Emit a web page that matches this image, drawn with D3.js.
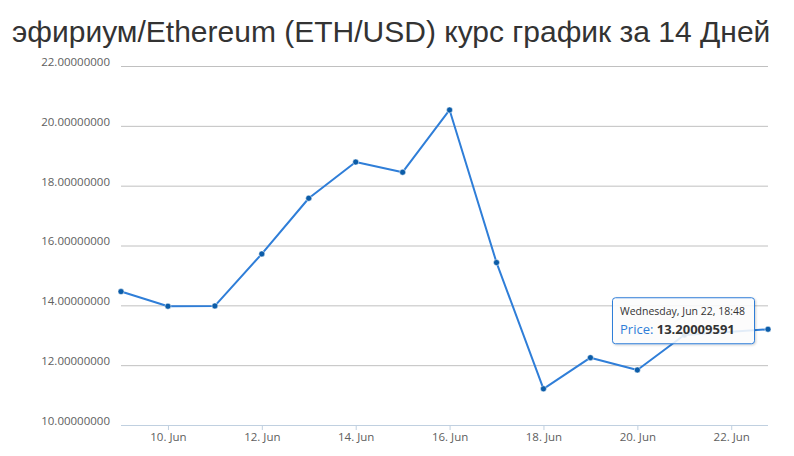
<!DOCTYPE html>
<html>
<head>
<meta charset="utf-8">
<script src="https://cdn.jsdelivr.net/npm/d3@7"></script>
<style>
  body { margin: 0; background: #fff; }
  svg { display: block; }
</style>
</head>
<body>
<div id="chart"></div>
<script>
// data
const titleText = "эфириум/Ethereum (ETH/USD) курс график за 14 Дней";
const dates = ["2016-06-09T00:00", "2016-06-10T00:00", "2016-06-11T00:00", "2016-06-12T00:00",
  "2016-06-13T00:00", "2016-06-14T00:00", "2016-06-15T00:00", "2016-06-16T00:00",
  "2016-06-17T00:00", "2016-06-18T00:00", "2016-06-19T00:00", "2016-06-20T00:00",
  "2016-06-21T00:00", "2016-06-22T18:48"];
const prices = [14.46, 13.97, 13.98, 15.72, 17.58, 18.79, 18.45, 20.53,
  15.43, 11.21, 12.25, 11.84, 13.01, 13.20009591];
const yTicks = [10, 12, 14, 16, 18, 20, 22];
const xTicks = ["2016-06-10", "2016-06-12", "2016-06-14", "2016-06-16",
  "2016-06-18", "2016-06-20", "2016-06-22"];
const tooltipDate = "Wednesday, Jun 22, 18:48";
const tooltipLabel = "Price: ";
const tooltipValue = "13.20009591";

const W = 794, H = 456;
const margin = {top: 66, right: 26, bottom: 31, left: 121};
const width = W - margin.left - margin.right,
      height = H - margin.top - margin.bottom;

const parse = d3.timeParse("%Y-%m-%dT%H:%M");
const parseDay = d3.timeParse("%Y-%m-%d");
const data = dates.map((d, i) => ({date: parse(d), price: prices[i]}));

const svg = d3.select("#chart")
  .append("svg")
  .attr("width", W)
  .attr("height", H);

svg.append("text")
  .attr("x", 12)
  .attr("y", 42)
  .style("font-family", "'Liberation Sans', Arial, sans-serif")
  .style("font-size", "30px")
  .style("fill", "#333")
  .text(titleText);

const g = svg.append("g")
  .attr("transform", `translate(${margin.left}, ${margin.top})`);

const x = d3.scaleTime()
  .domain(d3.extent(data, d => d.date))
  .range([0, width]);

const y = d3.scaleLinear()
  .domain([10, 22])
  .range([height, 0]);

// grid lines + y labels
const yAxis = g.append("g")
  .call(d3.axisLeft(y).tickValues(yTicks).tickSize(-width).tickFormat(d => d.toFixed(8)))
yAxis.select(".domain").remove();
yAxis.selectAll(".tick line").attr("stroke", "#C0C0C0");
yAxis.selectAll(".tick text")
  .attr("x", -11)
  .attr("dy", "-0.05em")
  .style("font-family", "'Open Sans', sans-serif")
  .style("font-size", "11.5px")
  .style("fill", "#606060");
yAxis.selectAll(".tick").filter(d => d === 10).select("line").remove();

// x axis
const xAxis = g.append("g")
  .attr("transform", `translate(0, ${height})`)
  .call(d3.axisBottom(x)
    .tickValues(xTicks.map(parseDay))
    .tickSize(5)
    .tickFormat(d3.timeFormat("%-d. %b")));
xAxis.select(".domain").attr("stroke", "#C0D0E0").attr("d", `M0,0.5H${width}`);
xAxis.selectAll(".tick line").attr("stroke", "#C0D0E0");
xAxis.selectAll(".tick text")
  .attr("y", 8)
  .style("font-family", "'Open Sans', sans-serif")
  .style("font-size", "11.5px")
  .style("fill", "#606060");

// line
const line = d3.line()
  .x(d => x(d.date))
  .y(d => y(d.price));

g.append("path")
  .datum(data)
  .attr("fill", "none")
  .attr("stroke", "#2f7ed8")
  .attr("stroke-width", 2)
  .attr("stroke-linejoin", "round")
  .attr("d", line);

g.selectAll(".dot")
  .data(data)
  .join("circle")
    .attr("class", "dot")
    .attr("cx", d => x(d.date))
    .attr("cy", d => y(d.price))
    .attr("r", 3)
    .attr("fill", "#0b5ca8")
    .attr("stroke", "#fff")
    .attr("stroke-width", 0.5);

// tooltip for the last point
const last = data[data.length - 1];
const tx = x(last.date) - 156, ty = y(last.price) - 32;
const tip = g.append("g").attr("transform", `translate(${tx}, ${ty})`);
const defs = svg.append("defs");
const filt = defs.append("filter").attr("id", "shadow").attr("x", "-10%").attr("y", "-10%").attr("width", "130%").attr("height", "140%");
filt.append("feDropShadow").attr("dx", 1).attr("dy", 1).attr("stdDeviation", 1.2).attr("flood-color", "#000").attr("flood-opacity", 0.2);
tip.append("rect")
  .attr("x", 0.5).attr("y", 0.5)
  .attr("width", 142).attr("height", 46)
  .attr("rx", 3)
  .attr("fill", "rgba(255,255,255,0.85)")
  .attr("stroke", "#2f7ed8")
  .attr("stroke-width", 1)
  .attr("filter", "url(#shadow)");
tip.append("text")
  .attr("x", 8).attr("y", 18)
  .style("font-family", "'Open Sans', sans-serif")
  .style("font-size", "10.5px")
  .style("fill", "#333")
  .text(tooltipDate);
const t2 = tip.append("text")
  .attr("x", 8).attr("y", 37)
  .style("font-family", "'Open Sans', sans-serif")
  .style("font-size", "13px");
t2.append("tspan").style("fill", "#2f7ed8").text(tooltipLabel);
t2.append("tspan").style("fill", "#333").style("font-weight", "bold").text(tooltipValue);
</script>
</body>
</html>
